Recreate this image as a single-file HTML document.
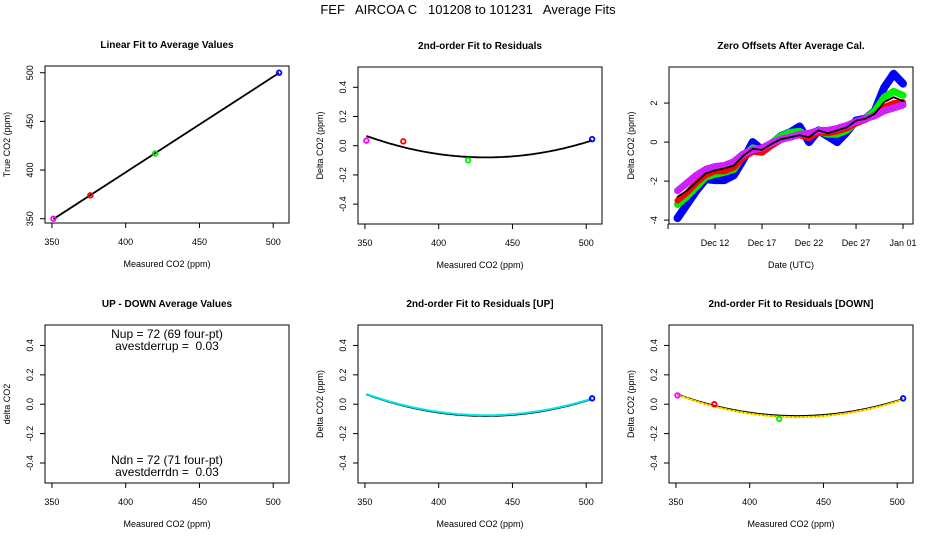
<!DOCTYPE html>
<html><head><meta charset="utf-8">
<style>
html,body{margin:0;padding:0;background:#fff;}
svg{display:block;font-family:"Liberation Sans",sans-serif;}
</style></head>
<body>
<svg id="c" width="936" height="540" viewBox="0 0 936 540">
<defs>
<pattern id="chk" width="4" height="4" patternUnits="userSpaceOnUse">
<rect width="4" height="4" fill="#ff00ff"/><rect width="2" height="2" fill="#a040ff"/><rect x="2" y="2" width="2" height="2" fill="#a040ff"/>
</pattern>
</defs>
<text x="468" y="14" text-anchor="middle" font-size="13" style="white-space:pre">FEF   AIRCOA C   101208 to 101231   Average Fits</text>
</svg>
<script>
// ---- data ----
const calMeasured = [351, 376, 420, 504];
const calTrue = [350, 374, 417, 500];
const calColors = ['#ff00ff', '#ff0000', '#00ee00', '#0000ff'];
const residAll = [0.035, 0.03, -0.10, 0.045];
const residDown = [0.06, 0.0, -0.10, 0.04];
const fitCoefs = [2.24e-5, 432, -0.08]; // a, vertex x, vertex y
const upCoefs = [2.2e-5, 432, -0.075];
const xTicks = [350, 400, 450, 500];
const resTicks = [-0.4, -0.2, 0.0, 0.2, 0.4];
const resTickLabels = ['-0.4', '-0.2', '0.0', '0.2', '0.4'];
const linTicks = [350, 400, 450, 500];
const days = [8,9,10,11,12,13,14,15,16,17,18,19,20,21,22,23,24,25,26,27,28,29,30,31,32];
const zBlue = [-3.9,-3.2,-2.5,-1.9,-1.95,-1.95,-1.7,-0.9,0.0,-0.4,-0.1,0.3,0.5,0.8,0.0,0.6,0.3,0.0,0.5,1.1,1.2,1.6,2.8,3.5,3.0];
const zGreen = [-3.2,-2.8,-2.3,-1.8,-1.65,-1.55,-1.4,-0.7,-0.3,-0.4,-0.05,0.3,0.5,0.55,0.3,0.55,0.4,0.4,0.6,1.0,1.2,1.6,2.3,2.6,2.4];
const zRed = [-3.0,-2.6,-2.1,-1.7,-1.5,-1.5,-1.3,-0.8,-0.5,-0.55,-0.2,0.1,0.25,0.35,0.2,0.5,0.45,0.55,0.7,0.95,1.15,1.4,1.8,2.0,2.05];
const zMag = [-2.5,-2.1,-1.7,-1.4,-1.25,-1.2,-1.0,-0.6,-0.4,-0.3,-0.05,0.15,0.25,0.4,0.45,0.6,0.6,0.7,0.85,1.05,1.2,1.35,1.6,1.75,1.9];
const zMean = [-2.8,-2.5,-2.05,-1.6,-1.45,-1.35,-1.2,-0.7,-0.35,-0.4,-0.1,0.15,0.25,0.35,0.25,0.6,0.45,0.6,0.75,1.1,1.2,1.45,2.05,2.3,2.1];
const dateTicks = [7, 12, 17, 22, 27, 32];
const dateLabels = ['', 'Dec 12', 'Dec 17', 'Dec 22', 'Dec 27', 'Jan 01'];
const zTicks = [-4, -2, 0, 2];

const svg = document.getElementById('c');
const NS = 'http://www.w3.org/2000/svg';
function mk(tag, at, parent, txt) {
  const e = document.createElementNS(NS, tag);
  for (const k in at) e.setAttribute(k, at[k]);
  if (txt !== undefined) e.textContent = txt;
  (parent || svg).appendChild(e);
  return e;
}
function panel(name, L, T, R, B, xmin, xmax, ymin, ymax, title, xlab, ylab) {
  const g = mk('g', {});
  
  
  const sx = v => L + (v - xmin) / (xmax - xmin) * (R - L);
  const sy = v => B - (v - ymin) / (ymax - ymin) * (B - T);
  const t = mk('text', {x: (L + R) / 2, y: T - 18, 'text-anchor': 'middle', 'font-size': 10, 'font-weight': 'bold'}, g, title);
  
  
  const xl = mk('text', {x: (L + R) / 2, y: B + 44, 'text-anchor': 'middle', 'font-size': 9}, g, xlab);
  
  
  const yl = mk('text', {x: 0, y: 0, 'text-anchor': 'middle', 'font-size': 9, transform: `translate(${L - 35},${(T + B) / 2}) rotate(-90)`}, g, ylab);
  
  
  const box = mk('rect', {x: L, y: T, width: R - L, height: B - T, fill: 'none', stroke: '#000', 'stroke-width': 1}, g);
  
  
  return {g, sx, sy, L, T, R, B};
}
function xAxis(p, ticks, labels) {
  const a = mk('g', {}, p.g);
  
  
  mk('line', {x1: p.sx(ticks[0]), x2: p.sx(ticks[ticks.length - 1]), y1: p.B, y2: p.B, stroke: '#000'}, a);
  ticks.forEach((v, i) => {
    mk('line', {x1: p.sx(v), x2: p.sx(v), y1: p.B, y2: p.B + 5, stroke: '#000'}, a);
    const t = mk('text', {x: p.sx(v), y: p.B + 22, 'text-anchor': 'middle', 'font-size': 9}, a, labels[i]);
    
    
  });
}
function yAxis(p, ticks, labels) {
  const a = mk('g', {}, p.g);
  
  
  mk('line', {x1: p.L, x2: p.L, y1: p.sy(ticks[0]), y2: p.sy(ticks[ticks.length - 1]), stroke: '#000'}, a);
  ticks.forEach((v, i) => {
    mk('line', {x1: p.L - 5, x2: p.L, y1: p.sy(v), y2: p.sy(v), stroke: '#000'}, a);
    const t = mk('text', {x: 0, y: 0, 'text-anchor': 'middle', 'font-size': 9, transform: `translate(${p.L - 12},${p.sy(v)}) rotate(-90)`}, a, labels[i]);
    
    
  });
}
function pts(p, xs, ys, cols, name) {
  xs.forEach((x, i) => {
    const c = mk('circle', {cx: p.sx(x), cy: p.sy(ys[i]), r: 2.3, fill: 'none', stroke: cols[i], 'stroke-width': 1.8}, p.g);
    
    
  });
}
function quad(p, co, stroke, w, dash, name) {
  let d = '';
  for (let x = 351; x <= 504; x += 1) {
    const y = co[0] * (x - co[1]) * (x - co[1]) + co[2];
    d += (d ? 'L' : 'M') + p.sx(x).toFixed(1) + ',' + p.sy(y).toFixed(1);
  }
  const e = mk('path', {d, fill: 'none', stroke, 'stroke-width': w, 'stroke-dasharray': dash || 'none'}, p.g);
  
  
}
const xLab = xTicks.map(String);

// Panel 1
const p1 = panel('linear-fit-panel', 45, 66, 289, 223, 345.3, 510.7, 345.6, 506.9, 'Linear Fit to Average Values', 'Measured CO2 (ppm)', 'True CO2 (ppm)');
xAxis(p1, xTicks, xLab); yAxis(p1, linTicks, linTicks.map(String));
{
  const n = calMeasured.length;
  let mx = 0, my = 0; calMeasured.forEach((v, i) => { mx += v; my += calTrue[i]; }); mx /= n; my /= n;
  let sxy = 0, sxx = 0; calMeasured.forEach((v, i) => { sxy += (v - mx) * (calTrue[i] - my); sxx += (v - mx) * (v - mx); });
  const b = sxy / sxx, a0 = my - b * mx;
  const x0 = calMeasured[0], x1 = calMeasured[n - 1];
  const l = mk('line', {x1: p1.sx(x0), y1: p1.sy(a0 + b * x0), x2: p1.sx(x1), y2: p1.sy(a0 + b * x1), stroke: '#000', 'stroke-width': 1.8}, p1.g);
  
  
}
pts(p1, calMeasured, calTrue, calColors, 'calibration-point');

// Panel 2
const p2 = panel('residual-fit-panel', 358, 67, 602, 224, 345.3, 510.7, -0.536, 0.539, '2nd-order Fit to Residuals', 'Measured CO2 (ppm)', 'Delta CO2 (ppm)');
xAxis(p2, xTicks, xLab); yAxis(p2, resTicks, resTickLabels);
quad(p2, fitCoefs, '#000', 1.8, null, 'residual-fit-curve');
pts(p2, calMeasured, residAll, calColors, 'residual-point');

// Panel 3
const p3 = panel('zero-offsets-panel', 669, 67, 913, 224, 7.1, 33.06, -4.2, 3.85, 'Zero Offsets After Average Cal.', 'Date (UTC)', 'Delta CO2 (ppm)');
xAxis(p3, dateTicks, dateLabels); yAxis(p3, zTicks, zTicks.map(String));
function series(vals, stroke, w, name) {
  const d = vals.map((v, i) => (i ? 'L' : 'M') + p3.sx(days[i]).toFixed(1) + ',' + p3.sy(v).toFixed(1)).join('');
  const e = mk('path', {d, fill: 'none', stroke, 'stroke-width': w, 'stroke-linejoin': 'round', 'stroke-linecap': 'round'}, p3.g);
  
  
}
series(zBlue, '#0000ff', 8, 'series-blue');
series(zGreen, '#00ee00', 7, 'series-green');
series(zRed, '#ff0000', 6, 'series-red');
series(zMag, 'url(#chk)', 7, 'series-magenta');
series(zMean, '#000', 1.8, 'series-mean');

// Panel 4
const p4 = panel('up-down-panel', 45, 325, 289, 483, 345.3, 510.7, -0.536, 0.539, 'UP - DOWN Average Values', 'Measured CO2 (ppm)', 'delta CO2');
xAxis(p4, xTicks, xLab); yAxis(p4, resTicks, resTickLabels);
[['Nup = 72 (69 four-pt)', 338], ['avestderrup =  0.03', 350], ['Ndn = 72 (71 four-pt)', 464], ['avestderrdn =  0.03', 476]].forEach(([s, y]) => {
  const t = mk('text', {x: 167, y, 'text-anchor': 'middle', 'font-size': 12, style: 'white-space:pre'}, p4.g, s);
  
  
});

// Panel 5
const p5 = panel('residual-up-panel', 358, 325, 602, 483, 345.3, 510.7, -0.536, 0.539, '2nd-order Fit to Residuals [UP]', 'Measured CO2 (ppm)', 'Delta CO2 (ppm)');
xAxis(p5, xTicks, xLab); yAxis(p5, resTicks, resTickLabels);
quad(p5, fitCoefs, '#000', 1.8, null, 'residual-fit-curve');
quad(p5, upCoefs, '#00e5ee', 2, null, 'up-fit-curve');
pts(p5, [504], [0.04], ['#0000ff'], 'residual-point');

// Panel 6
const p6 = panel('residual-down-panel', 669, 325, 913, 483, 345.3, 510.7, -0.536, 0.539, '2nd-order Fit to Residuals [DOWN]', 'Measured CO2 (ppm)', 'Delta CO2 (ppm)');
xAxis(p6, xTicks, xLab); yAxis(p6, resTicks, resTickLabels);
quad(p6, fitCoefs, '#000', 1.8, null, 'residual-fit-curve');
quad(p6, [2.3e-5, 432, -0.088], '#ffee00', 2, null, 'down-fit-curve');
quad(p6, [2.3e-5, 432, -0.088], '#ff2000', 1, '1 3', 'down-fit-curve-dash');
pts(p6, calMeasured, residDown, calColors, 'residual-point');
</script>
</body></html>
